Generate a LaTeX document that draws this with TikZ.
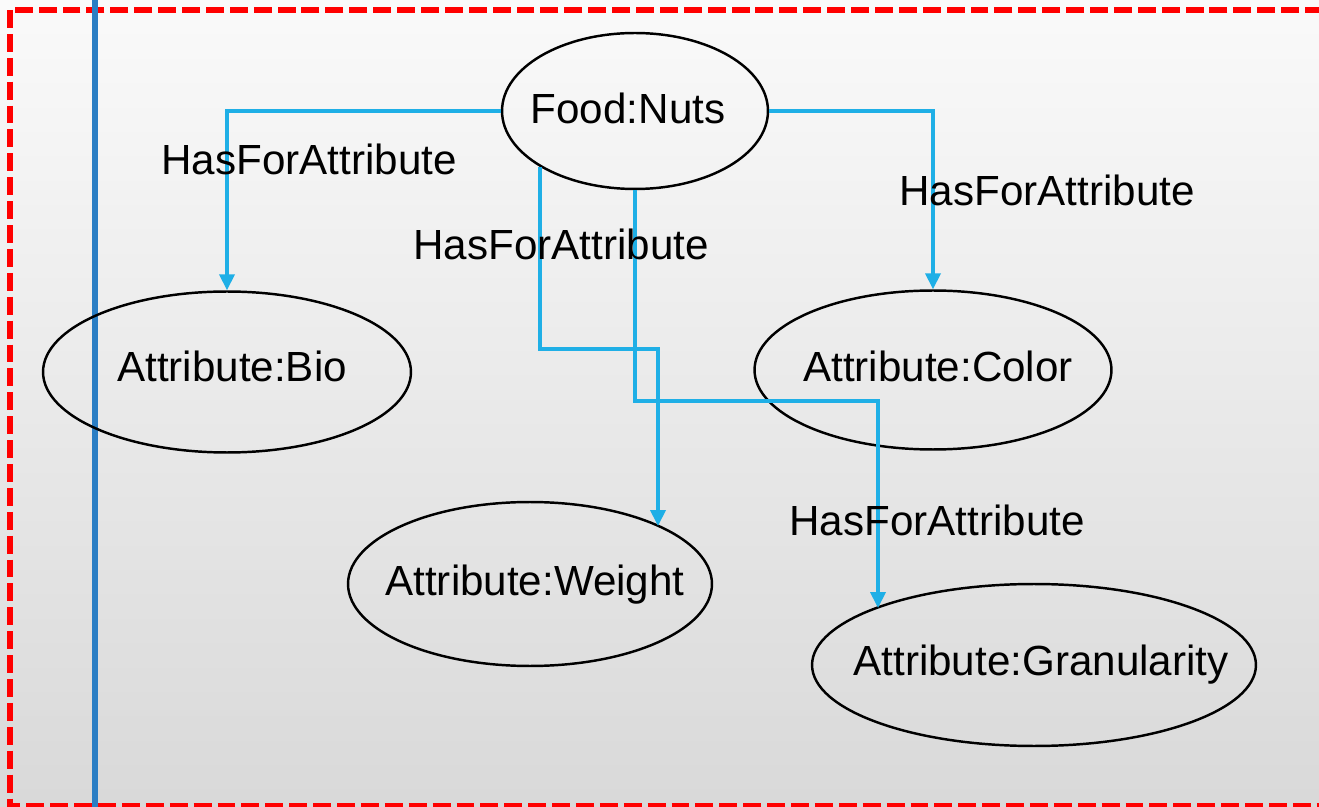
\documentclass[tikz,border=0pt]{standalone}
\usepackage{fontspec}
\setmainfont{Liberation Sans}
\usetikzlibrary{shapes.geometric,arrows.meta}
\definecolor{linkblue}{HTML}{1FAFE6}
\definecolor{barblue}{HTML}{2B7EC4}
\definecolor{frame}{HTML}{FF0000}
\tikzset{
  entity/.style={ellipse, draw=black, line width=1.4pt, inner sep=0pt},
  caption/.style={font=\fontsize{24}{28}\selectfont, inner sep=0pt, text depth=0pt},
  link/.style={draw=linkblue, line width=2pt,
    -{Triangle[width=8.5pt,length=9pt]}},
}
\begin{document}
\begin{tikzpicture}[x=0.02cm,y=-0.02cm]
  % canvas with soft vertical gradient
  \shade[top color=white!98!black, bottom color=white!85!black]
    (0,0) rectangle (1319,807);
  \useasboundingbox (0,0) rectangle (1319,807);
  % dashed red frame (its right side runs past the page edge)
  \draw[frame, line width=2.9pt, dash pattern=on 10.2pt off 3.4pt]
    (10,10) rectangle (1340,806);
  % vertical bar
  \draw[barblue, line width=2.9pt] (95,0) -- (95,807);

  % entities (sizes: 1 unit = 0.02cm)
  \node[entity, minimum width=5.32cm, minimum height=3.12cm] (food) at (635,111) {};
  \node[entity, minimum width=7.36cm, minimum height=3.22cm] (bio) at (227,372) {};
  \node[entity, minimum width=7.14cm, minimum height=3.18cm] (color) at (933,370) {};
  \node[entity, minimum width=7.28cm, minimum height=3.28cm] (weight) at (530,584) {};
  \node[entity, minimum width=8.88cm, minimum height=3.24cm] (gran) at (1034,665) {};

  % entity names
  \node[caption] (foodname) at (628,108) {Food:Nuts};
  \node[caption] (bioname) at (232,366) {Attribute:Bio};
  \node[caption] (colorname) at (938,366) {Attribute:Color};
  \node[caption] (weightname) at (535,580) {Attribute:Weight};
  \node[caption] (granname) at (1041,660) {Attribute:Granularity};

  % bends and ends of the routed links
  \coordinate (wbend) at (658,349);
  \coordinate (wend) at (658,526);
  \coordinate (gbend) at (878,401);
  \coordinate (gend) at (878,608);

  % links
  \draw[link] (food.west) -| (bio.north);
  \draw[link] (food.east) -| (color.north);
  \draw[link] (food.south west) |- (wbend) -- (wend);
  \draw[link] (food.south) |- (gbend) -- (gend);

  % link labels
  \node[caption] (l1) at (309,159) {HasForAttribute};
  \node[caption] (l2) at (1047,190) {HasForAttribute};
  \node[caption] (l3) at (561,244) {HasForAttribute};
  \node[caption] (l4) at (937,520) {HasForAttribute};
\end{tikzpicture}
\end{document}
